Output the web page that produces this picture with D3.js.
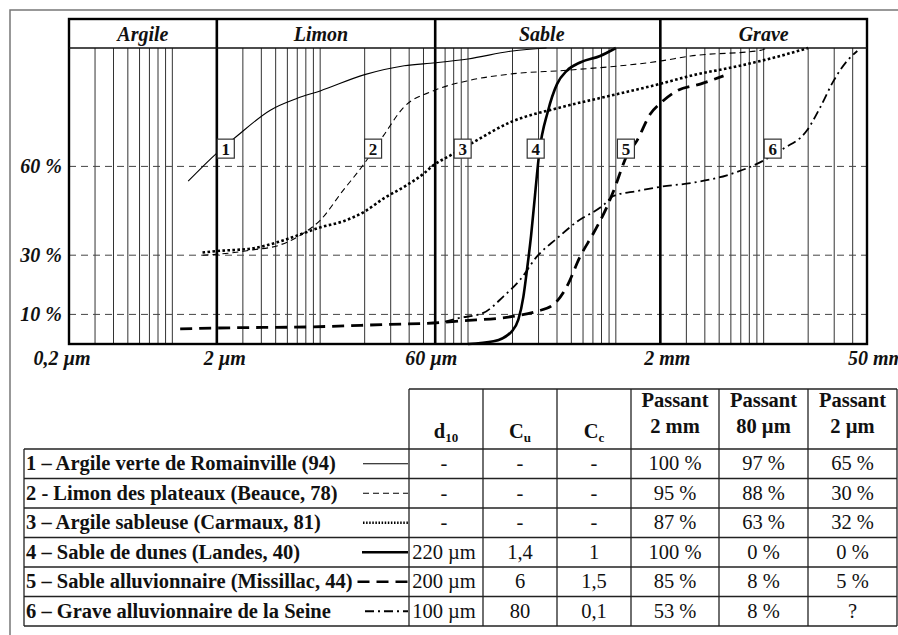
<!DOCTYPE html>
<html>
<head>
<meta charset="utf-8">
<script src="https://cdnjs.cloudflare.com/ajax/libs/d3/7.8.5/d3.min.js"></script>
<style>
body { margin: 0; background: #fff; }
svg { display: block; }
svg text { font-family: "Liberation Serif", "Times New Roman", "DejaVu Serif", serif; fill: #111; }
</style>
</head>
<body>
<svg width="898" height="635"></svg>
<script>
// classes granulométriques, diamètres en mm
var classBounds = [0.0002, 0.002, 0.06, 2, 50];
var classNames = ["Argile", "Limon", "Sable", "Grave"];

var axisValues = [0.0002, 0.002, 0.06, 2, 50];
var axisLabels = ["0,2 µm", "2 µm", "60 µm", "2 mm", "50 mm"];

var pctValues = [60, 30, 10];
var pctLabels = ["60 %", "30 %", "10 %"];

// courbes granulométriques : [diamètre (mm), passant (%)]
var curve1 = [[0.00128, 55], [0.002, 64.5], [0.0027, 70], [0.0046, 79], [0.007, 83], [0.01, 85.5],
  [0.02, 91], [0.037, 94], [0.06, 95], [0.1, 96.3], [0.2, 99], [0.34, 100]];
var curve2 = [[0.0016, 30], [0.002, 30.3], [0.0035, 31.8], [0.0053, 33.4], [0.0077, 37.4], [0.01, 41.8],
  [0.0143, 51.9], [0.0191, 59.8], [0.0268, 70.4], [0.0366, 79.9], [0.058, 85.5], [0.103, 89.1],
  [0.193, 91.2], [0.47, 92.5], [2, 95.6], [3.2, 97.3], [9.5, 99.2], [10.5, 100]];
var curve3 = [[0.0016, 30.9], [0.002, 31.4], [0.0035, 32.3], [0.0053, 34.6], [0.0077, 37.4], [0.01, 39.4],
  [0.0144, 41.5], [0.0196, 44.5], [0.0275, 49.5], [0.0366, 53], [0.05, 57.5], [0.058, 60.3],
  [0.076, 63.7], [0.109, 68.2], [0.193, 74.9], [0.42, 79.9], [0.92, 83.9], [2, 87.9], [3.2, 90.6],
  [6.9, 94], [12.9, 97.3], [20, 100]];
var curve4 = [[0.1, 0], [0.149, 0.9], [0.198, 4.3], [0.219, 8.2], [0.237, 16], [0.249, 24], [0.267, 36.5],
  [0.284, 50.3], [0.303, 64.4], [0.348, 78.8], [0.4, 87.8], [0.466, 92.3], [0.573, 95.1], [0.783, 97.3], [1, 100]];
var curve5 = [[0.00113, 5.1], [0.002, 5.4], [0.009, 5.8], [0.028, 6.6], [0.058, 7.1], [0.088, 7.8],
  [0.2, 9.3], [0.29, 11], [0.378, 13.3], [0.466, 19.4], [0.573, 29.5], [0.705, 37.4], [0.87, 46.3],
  [0.96, 51.4], [1.19, 63.7], [1.39, 68.7], [1.71, 77.7], [2, 81.3], [2.59, 85.5], [3.72, 87.8], [5.35, 90.6]];
var curve6 = [[0.07, 7.6], [0.088, 8.8], [0.127, 10.5], [0.174, 16.1], [0.225, 21.7], [0.292, 29.5],
  [0.4, 35.7], [0.545, 41.3], [0.824, 46.9], [0.963, 50], [1.4, 51.7], [2, 53.1], [3.35, 54.5],
  [5.64, 57], [10, 62], [13.6, 66], [19.6, 72.1], [24.1, 79.9], [29.7, 88.9], [36.6, 95.6], [43, 99]];

// position des étiquettes numérotées sur les courbes
var labelDiam = [0.0023, 0.0228, 0.092, 0.287, 1.17, 11.5];
var labelPct = 66;

// tableau
var rowNames = ["1 – Argile verte de Romainville (94)", "2 - Limon des plateaux (Beauce, 78)",
  "3 – Argile sableuse (Carmaux, 81)", "4 – Sable de dunes (Landes, 40)",
  "5 – Sable alluvionnaire (Missillac, 44)", "6 – Grave alluvionnaire de la Seine"];
var d10 = ["-", "-", "-", "220 µm", "200 µm", "100 µm"];
var cu = ["-", "-", "-", "1,4", "6", "80"];
var cc = ["-", "-", "-", "1", "1,5", "0,1"];
var pass2mm = ["100 %", "95 %", "87 %", "100 %", "85 %", "53 %"];
var pass80 = ["97 %", "88 %", "63 %", "0 %", "8 %", "8 %"];
var pass2um = ["65 %", "30 %", "32 %", "0 %", "5 %", "?"];

var curves = [curve1, curve2, curve3, curve4, curve5, curve6];

// styles de trait (sample = longueur de l'échantillon dans le tableau)
var styles = [
  {w: 1.1, dash: null, sample: 45},
  {w: 1.1, dash: "6,4", sample: 45},
  {w: 2.6, dash: "2.6,2.4", sample: 45},
  {w: 2.6, dash: null, sample: 46},
  {w: 2.8, dash: "12,7", sample: 73},
  {w: 1.8, dash: "9,4,2,4", sample: 43}
];

var FONT = '"Liberation Serif", "Times New Roman", "DejaVu Serif", serif';

var svg = d3.select("svg"),
    W = +svg.attr("width"),
    H = +svg.attr("height");

var plotLeft = 69, plotRight = 867, plotTop = 19, plotHead = 48, plotBottom = 344;
var axisDx = [-7, 8, -4, 7, 9];
var classDx = [0, -5, -6, 0];

var x = d3.scaleLog().domain([classBounds[0], classBounds[classBounds.length - 1]]).range([plotLeft, plotRight]);
var y = d3.scaleLinear().domain([0, 100]).range([plotBottom, plotHead]);

// cadre extérieur
svg.append("path")
  .attr("d", "M10," + H + "V10H" + W)
  .attr("fill", "none").attr("stroke", "#777").attr("stroke-width", 1.5);

// grille verticale (1 à 9 x 10^n)
svg.append("g").selectAll("line")
  .data(x.ticks())
  .enter().append("line")
  .attr("x1", function(d) { return x(d); })
  .attr("x2", function(d) { return x(d); })
  .attr("y1", plotHead).attr("y2", plotBottom)
  .attr("stroke", "#333").attr("stroke-width", 1);

// lignes horizontales en tirets
svg.append("g").selectAll("line")
  .data(pctValues)
  .enter().append("line")
  .attr("x1", plotLeft).attr("x2", plotRight)
  .attr("y1", function(d) { return y(d); })
  .attr("y2", function(d) { return y(d); })
  .attr("stroke", "#444").attr("stroke-width", 1).attr("stroke-dasharray", "7,5");

// limites des classes
svg.append("g").selectAll("line")
  .data(classBounds.slice(1, -1))
  .enter().append("line")
  .attr("x1", function(d) { return x(d); })
  .attr("x2", function(d) { return x(d); })
  .attr("y1", plotTop).attr("y2", plotBottom)
  .attr("stroke", "#000").attr("stroke-width", 2.6);

// courbes
var line = d3.line()
  .x(function(d) { return x(d[0]); })
  .y(function(d) { return y(d[1]); })
  .curve(d3.curveMonotoneX);

svg.append("g").selectAll("path")
  .data(curves)
  .enter().append("path")
  .attr("d", line)
  .attr("fill", "none")
  .attr("stroke", "#000")
  .attr("stroke-width", function(d, i) { return styles[i].w; })
  .attr("stroke-dasharray", function(d, i) { return styles[i].dash; });

// étiquettes numérotées
var lab = svg.append("g").selectAll("g")
  .data(labelDiam)
  .enter().append("g")
  .attr("transform", function(d) { return "translate(" + x(d) + "," + y(labelPct) + ")"; });
lab.append("rect")
  .attr("x", -8.5).attr("y", -9.5).attr("width", 17).attr("height", 19)
  .attr("fill", "#fff").attr("stroke", "#333").attr("stroke-width", 1.2);
lab.append("text")
  .attr("text-anchor", "middle").attr("y", 6)
  .attr("font-family", FONT)
  .style("font-size", "17px").style("font-weight", "bold")
  .text(function(d, i) { return i + 1; });

// cadre du graphique
svg.append("rect")
  .attr("x", plotLeft).attr("y", plotTop).attr("width", plotRight - plotLeft).attr("height", plotBottom - plotTop)
  .attr("fill", "none").attr("stroke", "#000").attr("stroke-width", 2.4);
svg.append("line")
  .attr("x1", plotLeft).attr("x2", plotRight).attr("y1", plotHead).attr("y2", plotHead)
  .attr("stroke", "#111").attr("stroke-width", 1.5);

// noms des classes
svg.append("g").selectAll("text")
  .data(classNames)
  .enter().append("text")
  .attr("x", function(d, i) { return (x(classBounds[i]) + x(classBounds[i + 1])) / 2 + classDx[i]; })
  .attr("y", 41)
  .attr("text-anchor", "middle")
  .attr("font-family", FONT)
  .style("font-size", "20px").style("font-weight", "bold").style("font-style", "italic")
  .text(function(d) { return d; });

// axe des diamètres
svg.append("g").selectAll("text")
  .data(axisValues)
  .enter().append("text")
  .attr("x", function(d, i) { return x(d) + axisDx[i]; })
  .attr("y", plotBottom + 21)
  .attr("text-anchor", "middle")
  .attr("font-family", FONT)
  .style("font-size", "20px").style("font-weight", "bold").style("font-style", "italic")
  .text(function(d, i) { return axisLabels[i]; });

// axe des pourcentages
svg.append("g").selectAll("text")
  .data(pctValues)
  .enter().append("text")
  .attr("x", 62)
  .attr("y", function(d) { return y(d) + 7; })
  .attr("text-anchor", "end")
  .attr("font-family", FONT)
  .style("font-size", "20px").style("font-weight", "bold").style("font-style", "italic")
  .text(function(d, i) { return pctLabels[i]; });

// ---- tableau ----
var cols = [24, 409, 483, 557, 631, 719, 808, 897];
var tHead = 389, tBody = 449, rowH = 29.5;
var tEnd = tBody + rowH * rowNames.length;
var tbl = svg.append("g").attr("font-family", FONT);
var TFS = "20.5px";

function hline(x1, x2, yy) {
  tbl.append("line").attr("x1", x1).attr("x2", x2).attr("y1", yy).attr("y2", yy)
    .attr("stroke", "#222").attr("stroke-width", 1.3);
}
function vline(xx, y1, y2) {
  tbl.append("line").attr("x1", xx).attr("x2", xx).attr("y1", y1).attr("y2", y2)
    .attr("stroke", "#222").attr("stroke-width", 1.3);
}

hline(cols[1], cols[7], tHead);
for (var r = 0; r <= rowNames.length; r++) hline(cols[0], cols[7], tBody + r * rowH);
vline(cols[0], tBody, tEnd);
for (var c = 1; c < cols.length; c++) vline(cols[c], tHead, tEnd);

function mid(c) { return (cols[c] + cols[c + 1]) / 2; }

// en-têtes
function subHead(c, main, sub) {
  var t = tbl.append("text").attr("x", mid(c)).attr("y", tHead + 49).attr("text-anchor", "middle")
    .attr("font-family", FONT)
    .style("font-size", TFS).style("font-weight", "bold");
  t.append("tspan").text(main);
  t.append("tspan").attr("dy", 4).style("font-size", "13px").text(sub);
}
subHead(1, "d", "10");
subHead(2, "C", "u");
subHead(3, "C", "c");

var passHeads = ["2 mm", "80 µm", "2 µm"];
passHeads.forEach(function(h, i) {
  tbl.append("text").attr("x", mid(4 + i)).attr("y", tHead + 18).attr("text-anchor", "middle")
    .attr("font-family", FONT)
    .style("font-size", TFS).style("font-weight", "bold").text("Passant");
  tbl.append("text").attr("x", mid(4 + i)).attr("y", tHead + 44).attr("text-anchor", "middle")
    .attr("font-family", FONT)
    .style("font-size", TFS).style("font-weight", "bold").text(h);
});

// lignes du tableau
var cellCols = [d10, cu, cc, pass2mm, pass80, pass2um];
rowNames.forEach(function(name, i) {
  var rowTop = tBody + i * rowH;
  var t = tbl.append("text").attr("x", cols[0] + 2).attr("y", rowTop + 21)
    .attr("font-family", FONT)
    .style("font-size", TFS).style("font-weight", "bold").text(name);
  var textEnd = cols[0] + 2 + t.node().getComputedTextLength();
  tbl.append("line")
    .attr("x1", Math.max(cols[1] - 1 - styles[i].sample, textEnd + 5)).attr("x2", cols[1] - 1)
    .attr("y1", rowTop + rowH / 2).attr("y2", rowTop + rowH / 2)
    .attr("stroke", "#000")
    .attr("stroke-width", Math.min(styles[i].w, 2.4))
    .attr("stroke-dasharray", i === 2 ? "1.5,1.6" : styles[i].dash);
  cellCols.forEach(function(arr, j) {
    tbl.append("text").attr("x", mid(j + 1) - (j === 0 ? 2 : 0)).attr("y", rowTop + 21)
      .attr("text-anchor", "middle")
      .attr("font-family", FONT)
      .style("font-size", TFS)
      .text(arr[i]);
  });
});
</script>
</body>
</html>
